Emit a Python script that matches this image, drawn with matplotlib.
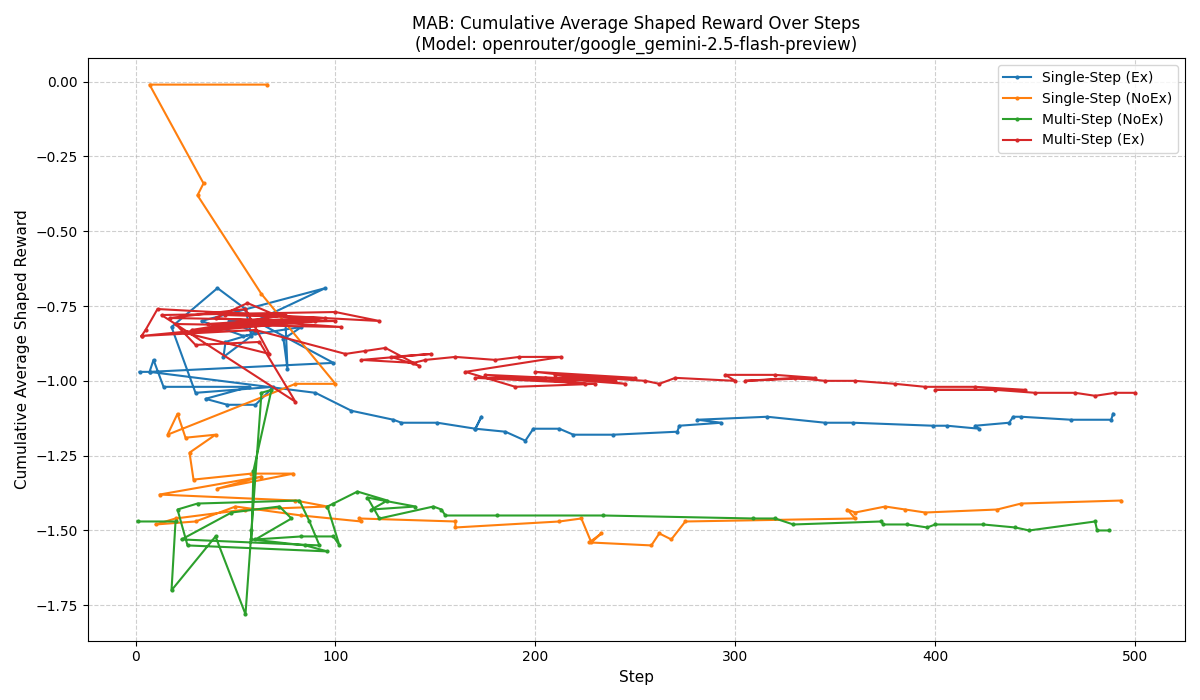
import matplotlib
matplotlib.use("Agg")
import matplotlib.pyplot as plt

single_ex_x = [2, 7, 9, 14, 57, 35, 46, 60, 69, 30, 18, 41, 55, 58, 44, 45, 60, 47, 75, 76, 74, 83, 54, 33, 95, 60, 99, 7,
               90, 108, 129, 133, 151, 170, 173, 170, 185, 195, 199, 212, 219, 239, 271, 272, 293, 281, 316, 345, 359,
               399, 406, 422, 420, 437, 439, 443, 468, 488, 489]
single_ex_y = [-0.97, -0.97, -0.93, -1.02, -1.02, -1.06, -1.08, -1.08, -1.02, -1.04, -0.82, -0.69, -0.76, -0.85, -0.92,
               -0.87, -0.84, -0.80, -0.80, -0.96, -0.86, -0.82, -0.85, -0.80, -0.69, -0.80, -0.94, -0.97,
               -1.04, -1.10, -1.13, -1.14, -1.14, -1.16, -1.12, -1.16, -1.17, -1.20, -1.16, -1.16, -1.18, -1.18, -1.17,
               -1.15, -1.14, -1.13, -1.12, -1.14, -1.14, -1.15, -1.15, -1.16, -1.15, -1.14, -1.12, -1.12, -1.13, -1.13,
               -1.11]

single_noex_x = [66, 7, 34, 31, 63, 100, 80, 16, 21, 25, 40, 27, 29, 58, 79, 41, 63,
                 12, 80, 96, 55, 20, 10, 30, 50, 83, 113, 112, 160, 160, 212, 223, 228, 233, 227, 258, 262, 268, 275,
                 360, 356, 360, 375, 385, 395, 431, 443, 493]
single_noex_y = [-0.01, -0.01, -0.34, -0.38, -0.71, -1.01, -1.01, -1.18, -1.11, -1.19, -1.18, -1.24, -1.33, -1.31,
                 -1.31, -1.36, -1.32,
                 -1.38, -1.40, -1.42, -1.43, -1.46, -1.48, -1.47, -1.42, -1.45, -1.47, -1.46, -1.47, -1.49, -1.47,
                 -1.46, -1.54, -1.51, -1.54, -1.55, -1.51, -1.53, -1.47, -1.46, -1.43, -1.44, -1.42, -1.43, -1.44,
                 -1.43, -1.41, -1.40]

multi_noex_x = [1, 20, 18, 40, 55, 58, 63, 68, 59, 58, 85, 96, 26, 21, 31, 82, 87, 92, 23, 48, 72, 78, 60, 83, 99, 102,
                96, 99, 111, 126, 118, 140, 116, 122, 149, 153, 155, 181, 234, 309, 320, 329, 373, 374, 386, 396, 400,
                424, 440, 447, 480, 481, 487]
multi_noex_y = [-1.47, -1.47, -1.70, -1.52, -1.78, -1.50, -1.04, -1.03, -1.30, -1.53, -1.55, -1.57, -1.55, -1.43,
                -1.41, -1.40, -1.47, -1.55, -1.53, -1.44, -1.42, -1.46, -1.53, -1.52, -1.52, -1.55, -1.42, -1.41,
                -1.37, -1.40, -1.43, -1.42, -1.39, -1.46, -1.42, -1.43, -1.45, -1.45, -1.45, -1.46, -1.46, -1.48,
                -1.47, -1.48, -1.48, -1.49, -1.48, -1.48, -1.49, -1.50, -1.47, -1.50, -1.50]

multi_ex_x = [3, 5, 11, 122, 100, 13, 80, 62, 30, 20, 103, 40, 56, 70, 90, 25, 67, 55, 17, 100, 36, 85, 28, 75, 45, 95,
              3, 60, 105, 115, 125, 142, 128, 148, 113, 139, 145, 160, 180, 192, 213, 165, 190, 230, 170, 250, 200,
              240, 175, 225, 205, 245, 210, 255, 262, 270, 300, 295, 320, 340, 305, 330, 345, 360, 380, 395, 420,
              445, 400, 430, 450, 470, 480, 490, 500]
multi_ex_y = [-0.85, -0.83, -0.76, -0.80, -0.77, -0.78, -1.07, -0.87, -0.88, -0.81, -0.82, -0.79, -0.74, -0.78,
              -0.80, -0.84, -0.91, -0.76, -0.79, -0.80, -0.81, -0.79, -0.83, -0.78, -0.78, -0.79, -0.85, -0.83,
              -0.91, -0.90, -0.89, -0.95, -0.92, -0.91, -0.93, -0.94, -0.93, -0.92, -0.93, -0.92, -0.92, -0.97,
              -1.02, -1.01, -0.99, -0.99, -0.97, -1.00, -0.98, -1.01, -0.99, -1.01, -0.98, -1.00, -1.01, -0.99,
              -1.00, -0.98, -0.98, -0.99, -1.00, -0.99, -1.00, -1.00, -1.01, -1.02, -1.02, -1.03, -1.03, -1.03,
              -1.04, -1.04, -1.05, -1.04, -1.04]

fig, ax = plt.subplots(figsize=(12, 7), dpi=100)
ax.plot(single_ex_x, single_ex_y, marker='o', markersize=2, label='Single-Step (Ex)')
ax.plot(single_noex_x, single_noex_y, marker='o', markersize=2, label='Single-Step (NoEx)')
ax.plot(multi_noex_x, multi_noex_y, marker='o', markersize=2, label='Multi-Step (NoEx)')
ax.plot(multi_ex_x, multi_ex_y, marker='o', markersize=2, label='Multi-Step (Ex)')

ax.set_title('MAB: Cumulative Average Shaped Reward Over Steps\n(Model: openrouter/google_gemini-2.5-flash-preview)',
             fontsize=12)
ax.set_xlabel('Step', fontsize=11)
ax.set_ylabel('Cumulative Average Shaped Reward', fontsize=11)
ax.grid(True, linestyle='--', alpha=0.6)
ax.legend(loc='upper right')
fig.tight_layout()
fig.savefig('out.png')
